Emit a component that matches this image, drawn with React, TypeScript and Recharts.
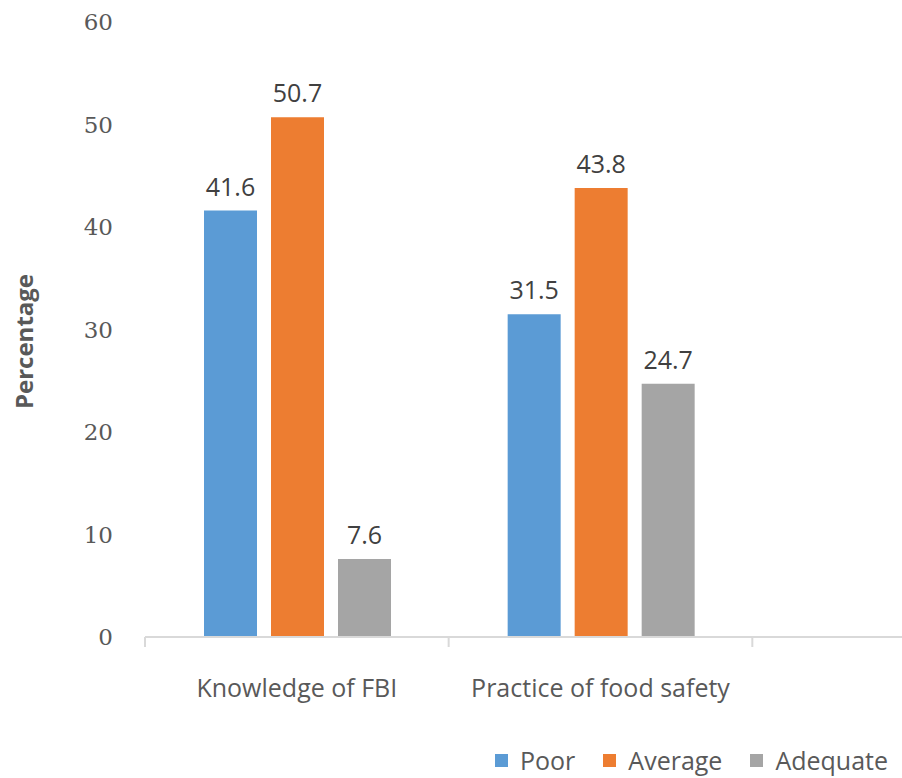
import { Bar, BarChart, LabelList, Legend, XAxis, YAxis } from "recharts";

const categories = ["Knowledge of FBI", "Practice of food safety", ""];
const poor = [41.6, 31.5, undefined];
const average = [50.7, 43.8, undefined];
const adequate = [7.6, 24.7, undefined];
const yTicks = [0, 10, 20, 30, 40, 50, 60];
const seriesNames = ["Poor", "Average", "Adequate"];
const COLORS = ["#5B9BD5", "#ED7D31", "#A5A5A5"];

const data = categories.map((name, i) => ({
  name,
  poor: poor[i],
  average: average[i],
  adequate: adequate[i],
}));

const SANS = "'Open Sans', sans-serif";

const CategoryTick = (props: any) => {
  const { x, y, payload } = props;
  const half = payload.offset ?? 0;
  return (
    <g>
      <line x1={x - half} y1={y} x2={x - half} y2={y + 10} stroke="#d9d9d9" strokeWidth={2} />
      <text x={x} y={y + 60} textAnchor="middle" fill="#595959" fontSize={25} fontFamily={SANS}>
        {payload.value}
      </text>
    </g>
  );
};

const YTitle = (props: any) => {
  const { viewBox } = props;
  const cy = viewBox.y + viewBox.height / 2 + 12;
  return (
    <text
      x={23}
      y={cy}
      transform={`rotate(-90, 23, ${cy})`}
      textAnchor="middle"
      dominantBaseline="central"
      fill="#595959"
      fontSize={24}
      fontWeight="bold"
      fontFamily={SANS}
    >
      Percentage
    </text>
  );
};

const LegendContent = () => (
  <div
    style={{
      display: "flex",
      alignItems: "center",
      height: 30,
      lineHeight: "30px",
      fontFamily: SANS,
      fontSize: 25,
      color: "#595959",
    }}
  >
    {seriesNames.map((name, i) => (
      <div key={name} style={{ display: "flex", alignItems: "center", marginRight: 28 }}>
        <span style={{ width: 13, height: 13, background: COLORS[i], marginRight: 12, display: "inline-block" }} />
        <span>{name}</span>
      </div>
    ))}
  </div>
);

export default function App() {
  return (
    <div style={{ position: "absolute", left: 0, top: 0, width: 902, height: 778, overflow: "hidden", background: "#fff" }}>
      <BarChart
        width={1056}
        height={778}
        data={data}
        margin={{ top: 22, right: 0, left: 0, bottom: 0 }}
        barCategoryGap={59}
        barGap={14}
      >
        <XAxis
          dataKey="name"
          height={111}
          axisLine={{ stroke: "#d9d9d9", strokeWidth: 2 }}
          tickLine={false}
          tickSize={0}
          tickMargin={0}
          tick={<CategoryTick />}
          interval={0}
        />
        <YAxis
          width={145}
          domain={[0, 60]}
          ticks={yTicks}
          axisLine={false}
          tickLine={false}
          tickSize={0}
          tickMargin={32}
          tick={{ fill: "#595959", fontSize: 23, fontFamily: "'DejaVu Serif', serif" }}
          label={<YTitle />}
        />
        <Legend
          content={<LegendContent />}
          verticalAlign="bottom"
          wrapperStyle={{ left: 495, bottom: 3, width: 400, height: 30 }}
        />
        <Bar dataKey="poor" name="Poor" fill={COLORS[0]} isAnimationActive={false}>
          <LabelList dataKey="poor" position="top" offset={15} fill="#404040" fontSize={25} fontFamily={SANS} />
        </Bar>
        <Bar dataKey="average" name="Average" fill={COLORS[1]} isAnimationActive={false}>
          <LabelList dataKey="average" position="top" offset={15} fill="#404040" fontSize={25} fontFamily={SANS} />
        </Bar>
        <Bar dataKey="adequate" name="Adequate" fill={COLORS[2]} isAnimationActive={false}>
          <LabelList dataKey="adequate" position="top" offset={15} fill="#404040" fontSize={25} fontFamily={SANS} />
        </Bar>
      </BarChart>
    </div>
  );
}
